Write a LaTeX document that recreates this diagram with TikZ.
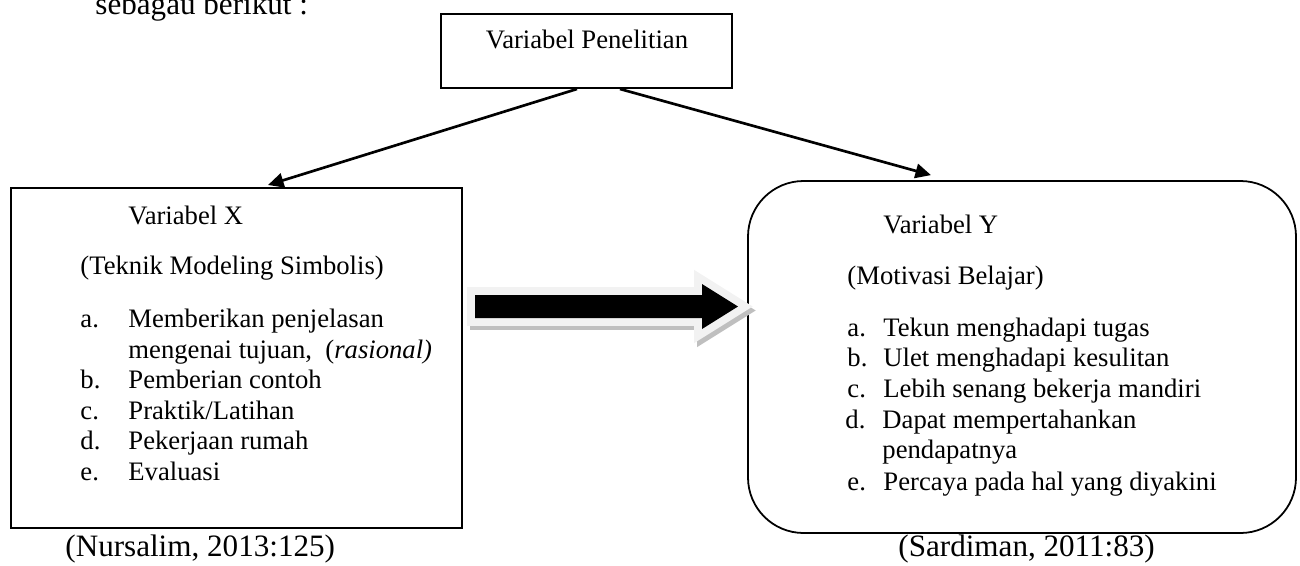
\documentclass[tikz,border=0pt]{standalone}
\usepackage{fontspec}
\setmainfont{Liberation Serif}
\usetikzlibrary{arrows.meta,calc}

\def\pxu{0.45pt}
\tikzset{
    box/.style={draw, line width=0.9pt, inner sep=0pt},
    roundbox/.style={draw, line width=0.8pt, inner sep=0pt, rounded corners=25pt},
    txt/.style={inner sep=0pt, anchor=base west, font=\fontsize{12}{14}\selectfont},
    src/.style={inner sep=0pt, anchor=base west, font=\fontsize{14}{16}\selectfont},
    link/.style={-{Triangle[length=7pt,width=6.5pt]}, line width=1.2pt},
}

\begin{document}
\begin{tikzpicture}[x=\pxu, y=-\pxu]
        \useasboundingbox (0,0) rectangle (1300,565);

        \node[src] (intro) at (95,14) {sebagau berikut :};

        % boxes
        \node[box, minimum width=291*\pxu, minimum height=74*\pxu] (pen) at (586.5,51) {};
        \node[box, minimum width=451*\pxu, minimum height=340*\pxu] (varx) at (236.5,358) {};
        \node[roundbox, minimum width=548*\pxu, minimum height=352*\pxu] (vary) at (1022,357) {};

        \node[txt, anchor=base] (pentitle) at (587,48) {Variabel Penelitian};

        % variabel X
        \node[txt] (xtitle) at (128,224) {Variabel X};
        \node[txt] (xsub) at (80,274) {(Teknik Modeling Simbolis)};
        \node[txt] (xla) at (80,327) {a.};
        \node[txt] (xa) at (128,327) {Memberikan penjelasan};
        \node[txt] (xa2) at (128,358) {mengenai tujuan,\ \ (\textit{rasional)}};
        \node[txt] (xlb) at (80,388) {b.};
        \node[txt] (xb) at (128,388) {Pemberian contoh};
        \node[txt] (xlc) at (80,419) {c.};
        \node[txt] (xc) at (128,419) {Praktik/Latihan};
        \node[txt] (xld) at (80,449) {d.};
        \node[txt] (xd) at (128,449) {Pekerjaan rumah};
        \node[txt] (xle) at (80,480) {e.};
        \node[txt] (xe) at (128,480) {Evaluasi};

        % variabel Y
        \node[txt] (ytitle) at (883,233) {Variabel Y};
        \node[txt] (ysub) at (847,284) {(Motivasi Belajar)};
        \node[txt] (yla) at (847,336) {a.};
        \node[txt] (ya) at (883,336) {Tekun menghadapi tugas};
        \node[txt] (ylb) at (847,366) {b.};
        \node[txt] (yb) at (883,366) {Ulet menghadapi kesulitan};
        \node[txt] (ylc) at (847,397) {c.};
        \node[txt] (yc) at (883,397) {Lebih senang bekerja mandiri};
        \node[txt] (yld) at (845,428) {d.};
        \node[txt] (yd) at (882,428) {Dapat mempertahankan};
        \node[txt] (yd2) at (882,458) {pendapatnya};
        \node[txt] (yle) at (847,490) {e.};
        \node[txt] (ye) at (883,490) {Percaya pada hal yang diyakini};

        \node[src] (xsrc) at (65,556) {(Nursalim, 2013:125)};
        \node[src] (ysrc) at (898,556) {(Sardiman, 2011:83)};

        \draw[link] ($(pen.south)+(-9.5,0)$) -- ($(varx.north)+(31.5,-2)$);
        \draw[link] ($(pen.south)+(33.5,0)$) -- ($(vary.north)+(-91,-5)$);

        % block arrow: shadow, light rim, black body
        \def\blockarrow{(475,295) -- (702,295) -- (702,284) -- (738,306.5) -- (702,329) -- (702,318) -- (475,318) -- cycle}
        \fill[gray!50, draw=gray!50, line width=7pt, shift={(3,4)}] \blockarrow;
        \fill[gray!10, draw=gray!10, line width=7pt] \blockarrow;
        \fill[black] \blockarrow;
    \end{tikzpicture}
\end{document}
